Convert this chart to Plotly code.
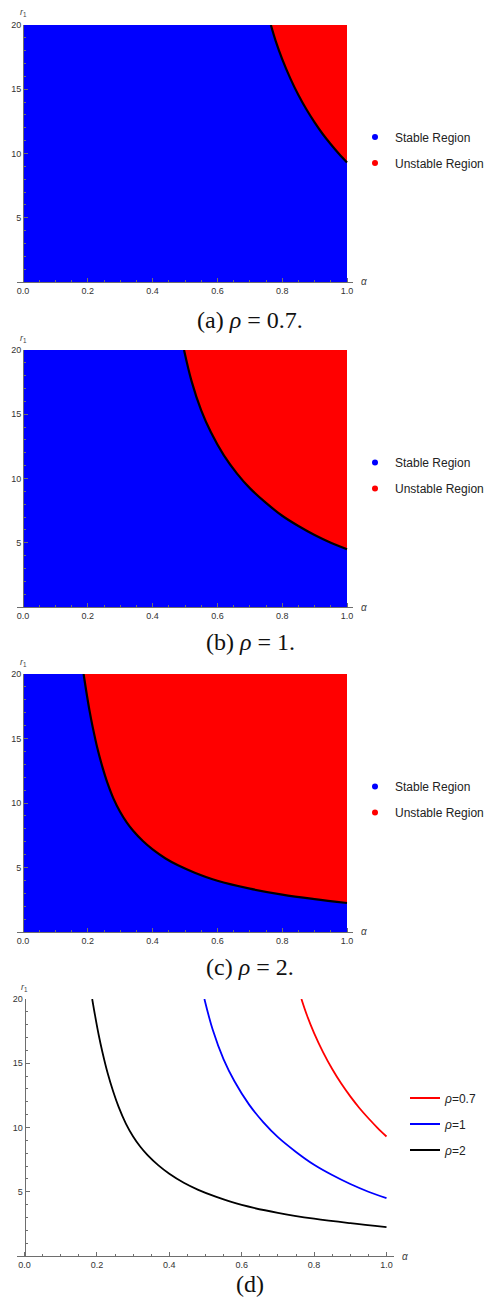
import plotly.graph_objects as go

# ---- data ----
# boundary curves r1(alpha) for each rho
alpha_07 = [0.765, 0.78, 0.80, 0.825, 0.85, 0.875, 0.90, 0.925, 0.95, 0.975, 1.0]
r1_07 = [20.0, 18.75, 17.35, 15.85, 14.55, 13.42, 12.42, 11.52, 10.72, 9.98, 9.3]

alpha_1 = [0.497, 0.52, 0.55, 0.58, 0.62, 0.66, 0.70, 0.75, 0.80, 0.85, 0.90, 0.95, 1.0]
r1_1 = [20.0, 17.6, 15.3, 13.6, 11.8, 10.4, 9.25, 8.1, 7.1, 6.3, 5.6, 5.0, 4.5]

alpha_2 = [0.187, 0.195, 0.205, 0.215, 0.23, 0.245, 0.26, 0.28, 0.30, 0.32, 0.34, 0.37,
           0.40, 0.44, 0.48, 0.53, 0.60, 0.70, 0.80, 0.90, 1.0]
r1_2 = [20.0, 18.7, 17.2, 15.9, 14.2, 12.8, 11.6, 10.3, 9.3, 8.5, 7.85, 7.05,
        6.4, 5.7, 5.15, 4.6, 3.97, 3.36, 2.9, 2.55, 2.25]

rho_labels = ["0.7", "1", "2"]
captions = ["(a) <i>ρ</i>&nbsp;=&nbsp;0.7.", "(b) <i>ρ</i>&nbsp;=&nbsp;1.",
            "(c) <i>ρ</i>&nbsp;=&nbsp;2.", "(d)"]
region_names = ["Stable Region", "Unstable Region"]
x_tick_vals = [0.0, 0.2, 0.4, 0.6, 0.8, 1.0]
y_tick_vals = [5, 10, 15, 20]

X_MIN, X_MAX = 0.0, 1.0
Y_MIN, Y_MAX = 0.0, 20.0

BLUE = "#0000FF"
RED = "#FF0000"
AX = "#6e6e6e"

# page has an 8px body margin; work in page pixels and convert
OFF = 8
W, H = 492 - OFF, 1304 - OFF


def px(X):
    return (X - OFF) / W


def py(Y):
    return 1 - (Y - OFF) / H


curves = [(alpha_07, r1_07), (alpha_1, r1_1), (alpha_2, r1_2)]

fig = go.Figure()

# panel geometry in page pixels: (x of alpha=0, x of alpha=1, top y, bottom y)
panels = [
    (23, 347, 25, 282),
    (23, 347, 350, 607),
    (23, 347, 674, 932),
    (24.5, 386.5, 999, 1256),
]
caption_y = [320, 642, 967, 1284]
legend_y = [150, 475.5, 799.5, 1124]

ext = 0.02
for i, (x0p, x1p, yt, yb) in enumerate(panels):
    ppu = (x1p - x0p)
    left = x0p - ext * ppu
    right = x1p + ext * ppu
    n = "" if i == 0 else str(i + 1)
    fig.layout["xaxis" + n] = dict(
        domain=[px(left), px(right)], range=[X_MIN - ext, X_MAX + ext],
        anchor="y" + n, showgrid=False, zeroline=False, showline=True,
        linecolor=AX, linewidth=1, ticks="inside", ticklen=4, tickcolor=AX,
        tickvals=x_tick_vals, ticktext=["%.1f" % v for v in x_tick_vals],
        tickfont=dict(family="Liberation Sans, Arial", size=9, color="#333"),
        minor=dict(dtick=0.05, tick0=0, ticks="inside", ticklen=2, tickcolor=AX),
        fixedrange=True, automargin=False,
    )
    fig.layout["yaxis" + n] = dict(
        domain=[py(yb), py(yt)], range=[Y_MIN, Y_MAX],
        anchor="free", position=px(x0p),
        showgrid=False, zeroline=False, showline=True,
        linecolor=AX, linewidth=1, ticks="inside", ticklen=4, tickcolor=AX,
        tickvals=y_tick_vals,
        tickfont=dict(family="Liberation Sans, Arial", size=9, color="#333"),
        minor=dict(dtick=1, tick0=0, ticks="inside", ticklen=2, tickcolor=AX),
        fixedrange=True, automargin=False,
    )
    # axis labels
    fig.add_annotation(x=px(x0p), y=py(yt - 12), xref="paper", yref="paper",
                       text="<i>r</i><sub>1</sub>", showarrow=False,
                       font=dict(family="Liberation Sans, Arial", size=9, color="#444"),
                       xanchor="center", yanchor="middle")
    fig.add_annotation(x=px(right + 11), y=py(yb), xref="paper", yref="paper",
                       text="<i>α</i>", showarrow=False,
                       font=dict(family="Liberation Sans, Arial", size=10, color="#444"),
                       xanchor="center", yanchor="middle")
    fig.add_annotation(x=px(250), y=py(caption_y[i]), xref="paper", yref="paper",
                       text=captions[i], showarrow=False,
                       font=dict(family="Liberation Serif, Times New Roman", size=24, color="#111"),
                       xanchor="center", yanchor="middle")

# region panels (a)-(c)
for i, (ax, ry) in enumerate(curves):
    n = "" if i == 0 else str(i + 1)
    xa, ya = "x" + n, "y" + n
    leg = "legend" if i == 0 else "legend" + str(i + 1)
    # stable (whole box, blue)
    fig.add_trace(go.Scatter(x=[X_MIN, X_MAX, X_MAX, X_MIN], y=[Y_MIN, Y_MIN, Y_MAX, Y_MAX],
                             fill="toself", fillcolor=BLUE, mode="lines", line=dict(width=0),
                             xaxis=xa, yaxis=ya, showlegend=False, hoverinfo="skip"))
    # top edge of unstable region
    fig.add_trace(go.Scatter(x=[ax[0], X_MAX], y=[Y_MAX, Y_MAX], mode="lines",
                             line=dict(width=0, color=RED), xaxis=xa, yaxis=ya,
                             showlegend=False, hoverinfo="skip"))
    # boundary curve, filling unstable region up to top edge
    fig.add_trace(go.Scatter(x=ax, y=ry, mode="lines", fill="tonexty", fillcolor=RED,
                             line=dict(color="black", width=2.2, shape="spline", smoothing=1),
                             xaxis=xa, yaxis=ya, showlegend=False))
    # legend entries
    for name, col in zip(region_names, [BLUE, RED]):
        fig.add_trace(go.Scatter(x=[None], y=[None], mode="markers", name=name,
                                 marker=dict(color=col, size=6), legend=leg,
                                 legendgroup=name + str(i), xaxis=xa, yaxis=ya))

# panel (d)
for (ax, ry), lab, col in zip(curves, rho_labels, [RED, BLUE, "black"]):
    fig.add_trace(go.Scatter(x=ax, y=ry, mode="lines", name="<i>ρ</i>=" + lab,
                             line=dict(color=col, width=1.8, shape="spline", smoothing=1),
                             xaxis="x4", yaxis="y4", legend="legend4", legendgroup=lab))

legfont = dict(family="Liberation Sans, Arial", size=12, color="#222")
for i in range(4):
    key = "legend" if i == 0 else "legend" + str(i + 1)
    lx = 355 if i < 3 else 405
    fig.layout[key] = dict(x=px(lx), y=py(legend_y[i]), xanchor="left", yanchor="middle",
                           bgcolor="rgba(0,0,0,0)", font=legfont, tracegroupgap=7,
                           itemclick=False, itemdoubleclick=False)

fig.update_layout(width=W, height=H, margin=dict(l=0, r=0, t=0, b=0, autoexpand=False),
                  paper_bgcolor="white", plot_bgcolor="rgba(0,0,0,0)",
                  showlegend=True)

fig.write_html("out.html")
